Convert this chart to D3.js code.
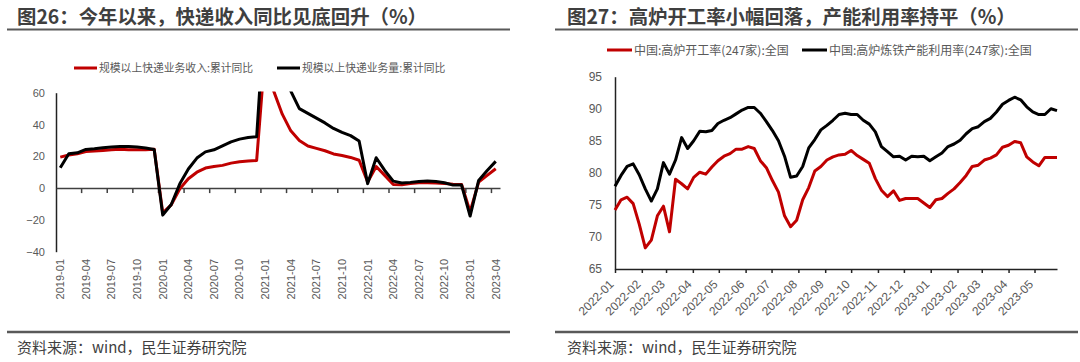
<!DOCTYPE html>
<html>
<head>
<meta charset="utf-8">
<script src="https://cdn.jsdelivr.net/npm/d3@7"></script>
<style>
body { margin: 0; background: #fff; }
text { font-family: "Liberation Sans", "Noto Sans CJK SC", sans-serif; }
</style>
</head>
<body>
<script>

// ---- left chart data: express delivery, cumulative YoY (%)
var months = ["2019-01","2019-02","2019-03","2019-04","2019-05","2019-06","2019-07","2019-08","2019-09","2019-10","2019-11","2019-12",
    "2020-01","2020-02","2020-03","2020-04","2020-05","2020-06","2020-07","2020-08","2020-09","2020-10","2020-11","2020-12",
    "2021-01","2021-02","2021-03","2021-04","2021-05","2021-06","2021-07","2021-08","2021-09","2021-10","2021-11","2021-12",
    "2022-01","2022-02","2022-03","2022-04","2022-05","2022-06","2022-07","2022-08","2022-09","2022-10","2022-11","2022-12",
    "2023-01","2023-02","2023-03","2023-04"];
var revenue = [19.5,20.8,21.6,23.0,23.4,23.7,24.1,24.5,24.1,24.1,24.1,24.5,
    -15.5,-10.5,-0.4,5.9,10.0,12.6,13.6,14.3,15.7,16.6,17.0,17.4,
    86,61,46.5,36,30,26.5,25,23.5,21.5,20.5,19.3,17.5,
    3.8,13.6,8.0,2.3,2.1,2.9,3.4,3.4,3.2,2.9,2.5,2.3,
    -14.8,3.8,8.0,12.2];
var volume = [12.8,21.6,22.2,24.3,24.7,25.4,25.8,26.2,26.2,25.8,25.2,24.3,
    -17.0,-10.3,2.7,12.0,18.9,22.8,24.1,26.6,29.1,30.8,31.8,32.3,
    115,100,75,61,50,47,44,41,37.5,35,33,29.6,
    2.8,19.1,11.1,4.4,3.2,3.6,4.2,4.4,4.2,3.4,1.9,1.9,
    -17.6,4.8,11.1,16.8];
var leftTicks = ["2019-01","2019-04","2019-07","2019-10","2020-01","2020-04","2020-07","2020-10",
    "2021-01","2021-04","2021-07","2021-10","2022-01","2022-04","2022-07","2022-10","2023-01","2023-04"];
var leftY = [-40,-20,0,20,40,60];

// ---- right chart data: 247 blast furnaces, weekly (%)
var weeks = ("2022-01-07 2022-01-14 2022-01-21 2022-01-28 2022-02-04 2022-02-11 2022-02-18 2022-02-25 " +
    "2022-03-04 2022-03-11 2022-03-18 2022-03-25 2022-04-01 2022-04-08 2022-04-15 2022-04-22 2022-04-29 " +
    "2022-05-06 2022-05-13 2022-05-20 2022-05-27 2022-06-03 2022-06-10 2022-06-17 2022-06-24 " +
    "2022-07-01 2022-07-08 2022-07-15 2022-07-22 2022-07-29 2022-08-05 2022-08-12 2022-08-19 2022-08-26 " +
    "2022-09-02 2022-09-09 2022-09-16 2022-09-23 2022-09-30 2022-10-07 2022-10-14 2022-10-21 2022-10-28 " +
    "2022-11-04 2022-11-11 2022-11-18 2022-11-25 2022-12-02 2022-12-09 2022-12-16 2022-12-23 2022-12-30 " +
    "2023-01-06 2023-01-13 2023-01-20 2023-01-27 2023-02-03 2023-02-10 2023-02-17 2023-02-24 " +
    "2023-03-03 2023-03-10 2023-03-17 2023-03-24 2023-03-31 2023-04-07 2023-04-14 2023-04-21 2023-04-28 " +
    "2023-05-05 2023-05-12 2023-05-19 2023-05-26 2023-06-02").split(" ");
var openRate = [74.2,75.8,76.2,75.2,72.0,68.3,69.5,73.3,74.8,70.8,79.0,78.3,77.5,79.3,80.1,79.8,80.9,
    81.9,82.6,83.0,83.7,83.7,84.1,83.8,81.9,80.8,78.8,77.0,73.3,71.6,72.6,75.8,77.7,80.3,
    81.0,82.0,82.5,82.8,82.9,83.5,82.7,82.1,81.5,79.1,77.3,76.3,77.2,75.7,76.0,76.0,76.0,75.3,
    74.6,75.8,76.0,76.8,77.5,78.5,79.6,81.0,81.2,82.0,82.3,82.8,84.0,84.3,84.9,84.7,82.5,81.7,
    81.1,82.4,82.4,82.4];
var capUse = [77.9,79.6,81.0,81.4,79.7,77.5,75.6,77.5,81.6,79.8,82.0,85.5,83.8,85.0,86.5,86.4,86.6,
    87.7,88.2,88.6,89.2,89.8,90.2,90.2,89.3,88.0,86.6,85.0,82.6,79.3,79.5,81.0,83.9,85.2,
    86.7,87.4,88.2,89.1,89.3,89.1,89.1,88.2,87.6,86.4,84.1,83.3,82.5,82.6,82.0,82.6,82.5,82.6,
    81.9,82.5,83.1,84.1,84.5,85.1,86.1,86.9,87.2,88.0,88.5,89.5,90.7,91.3,91.8,91.4,90.3,89.5,
    89.1,89.1,90.0,89.7];
var rightTicks = ["2022-01","2022-02","2022-03","2022-04","2022-05","2022-06","2022-07","2022-08","2022-09",
    "2022-10","2022-11","2022-12","2023-01","2023-02","2023-03","2023-04","2023-05"];
var rightY = [65,70,75,80,85,90,95];

var red = "#c00000";
var grey = "#595959";
var cjk = '"Noto Sans CJK SC", sans-serif';

var svg = d3.select('body').append('svg')
    .attr('width',1080)
    .attr('height',362);

// ---------- frames, titles, source ----------
svg.append('text').attr('x',17).attr('y',24)
    .style('font-family',cjk).attr('font-size',19.4).attr('font-weight','bold').attr('fill','#3f3f3f')
    .text('图26：今年以来，快递收入同比见底回升（%）');
svg.append('text').attr('x',567).attr('y',24)
    .style('font-family',cjk).attr('font-size',19.4).attr('font-weight','bold').attr('fill','#3f3f3f')
    .text('图27：高炉开工率小幅回落，产能利用率持平（%）');

[[7,510],[555,1078]].forEach(function(r){
    svg.append('line').attr('x1',r[0]).attr('x2',r[1]).attr('y1',29.5).attr('y2',29.5)
        .attr('stroke',grey).attr('stroke-width',2);
    svg.append('line').attr('x1',r[0]).attr('x2',r[1]).attr('y1',332).attr('y2',332)
        .attr('stroke',grey).attr('stroke-width',2.5);
});
svg.append('text').attr('x',17).attr('y',353)
    .style('font-family',cjk).attr('font-size',15).attr('fill','#404040')
    .text('资料来源：wind，民生证券研究院');
svg.append('text').attr('x',567).attr('y',353)
    .style('font-family',cjk).attr('font-size',15).attr('fill','#404040')
    .text('资料来源：wind，民生证券研究院');

// ---------- left chart ----------
var x1 = d3.scaleBand().domain(months).range([56,500]);
var y1 = d3.scaleLinear().domain([-40,60]).range([251.7,92.7]);

svg.append('clipPath').attr('id','clipL')
    .append('rect').attr('x',56).attr('y',91.5).attr('width',446).attr('height',162);

var yAxisL = svg.append('g').attr('transform','translate(56,0)')
    .call(d3.axisLeft(y1).tickValues(leftY).tickSize(0).tickPadding(11));
yAxisL.select('.domain').attr('stroke','#222').attr('stroke-width',1.5);
yAxisL.selectAll('text').attr('font-size',11).attr('fill',grey);

var xAxisL = svg.append('g').attr('transform','translate(0,' + y1(0) + ')')
    .call(d3.axisBottom(x1).tickValues([]).tickSizeOuter(0));
xAxisL.select('.domain').attr('stroke','#404040').attr('stroke-width',1.5);

// ticks between categories, every 3 months
svg.selectAll('.tickL').data(leftTicks.slice(1)).enter().append('line')
    .attr('x1',function(d){ return x1(d); })
    .attr('x2',function(d){ return x1(d); })
    .attr('y1',y1(0)).attr('y2',y1(0) + 5)
    .attr('stroke','#404040').attr('stroke-width',1.5);

var labL = svg.append('g').attr('transform','translate(0,256)')
    .call(d3.axisBottom(x1).tickValues(leftTicks).tickSize(0));
labL.select('.domain').remove();
labL.selectAll('text')
    .attr('transform','rotate(-90)')
    .attr('text-anchor','end')
    .attr('x',-3).attr('y',0).attr('dy','0.35em')
    .attr('font-size',11).attr('fill',grey);

var lineL = d3.line()
    .x(function(d,i){ return x1(months[i]) + x1.bandwidth()/2; })
    .y(function(d){ return y1(d); });

var plotL = svg.append('g').attr('clip-path','url(#clipL)');
plotL.append('path').datum(revenue).attr('d',lineL)
    .attr('fill','none').attr('stroke',red).attr('stroke-width',3).attr('stroke-linejoin','round');
plotL.append('path').datum(volume).attr('d',lineL)
    .attr('fill','none').attr('stroke','#000').attr('stroke-width',3).attr('stroke-linejoin','round');

// legend
var legL = [['规模以上快递业务收入:累计同比',red,74],['规模以上快递业务量:累计同比','#000',277]];
legL.forEach(function(l){
    svg.append('line').attr('x1',l[2]).attr('x2',l[2] + 23).attr('y1',68).attr('y2',68)
        .attr('stroke',l[1]).attr('stroke-width',3);
    svg.append('text').attr('x',l[2] + 25).attr('y',72)
        .style('font-family',cjk).attr('font-size',10.8).attr('fill',grey).text(l[0]);
});

// ---------- right chart ----------
var parse = d3.timeParse('%Y-%m-%d');
var dates = weeks.map(parse);
var x2 = d3.scaleTime().domain([dates[0], dates[dates.length - 1]]).range([615,1057]);
var y2 = d3.scaleLinear().domain([65,95]).range([269,76.7]);
var tickDates = rightTicks.map(function(t){ return parse(t + '-07'); });

var yAxisR = svg.append('g').attr('transform','translate(615,0)')
    .call(d3.axisLeft(y2).tickValues(rightY).tickSize(0).tickPadding(13));
yAxisR.select('.domain').attr('stroke','#222').attr('stroke-width',1.5);
yAxisR.selectAll('text').attr('font-size',12).attr('fill',grey);

var xAxisR = svg.append('g').attr('transform','translate(0,269)')
    .call(d3.axisBottom(x2).tickValues(tickDates).tickSize(4).tickSizeOuter(0)
        .tickFormat(d3.timeFormat('%Y-%m')));
xAxisR.select('.domain').attr('stroke','#222').attr('stroke-width',1.5);
xAxisR.selectAll('line').attr('stroke','#222').attr('stroke-width',1.5);
xAxisR.selectAll('text')
    .attr('transform','rotate(-45)')
    .attr('text-anchor','end')
    .attr('x',-12).attr('y',6.5).attr('dy','0.35em')
    .attr('font-size',12).attr('fill',grey);

var lineR = d3.line()
    .x(function(d,i){ return x2(dates[i]); })
    .y(function(d){ return y2(d); });

svg.append('path').datum(openRate).attr('d',lineR)
    .attr('fill','none').attr('stroke',red).attr('stroke-width',3).attr('stroke-linejoin','round');
svg.append('path').datum(capUse).attr('d',lineR)
    .attr('fill','none').attr('stroke','#000').attr('stroke-width',3).attr('stroke-linejoin','round');

var legR = [['中国:高炉开工率(247家):全国',red,607],['中国:高炉炼铁产能利用率(247家):全国','#000',802]];
legR.forEach(function(l){
    svg.append('line').attr('x1',l[2]).attr('x2',l[2] + 25).attr('y1',50).attr('y2',50)
        .attr('stroke',l[1]).attr('stroke-width',3);
    svg.append('text').attr('x',l[2] + 27).attr('y',54.5)
        .style('font-family',cjk).attr('font-size',12).attr('fill',grey).text(l[0]);
});

</script>
</body>
</html>
